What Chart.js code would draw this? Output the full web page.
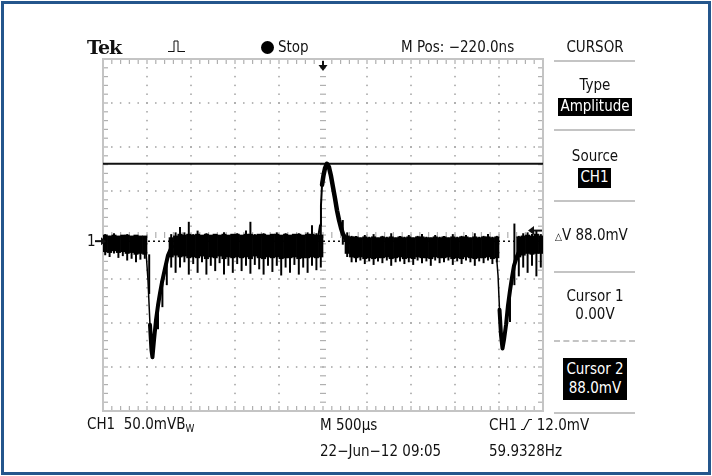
<!DOCTYPE html>
<html><head><meta charset="utf-8">
<script src="https://cdn.jsdelivr.net/npm/chart.js@4"></script>
<style>
html,body{margin:0;padding:0;background:#fff;}
#wrap{position:relative;width:712px;height:476px;overflow:hidden;background:#fff;font-family:"Liberation Sans Narrow","DejaVu Sans Condensed","Roboto",sans-serif;color:#111;}
#frame{position:absolute;left:1px;top:1px;width:704px;height:468px;border:3px solid #24568c;}
canvas{position:absolute;left:0;top:0;}
.t{position:absolute;font-size:15px;line-height:1;white-space:nowrap;transform:translateY(-50%);}
.c{transform:translate(-50%,-50%);text-align:center;}
.inv{position:absolute;background:#000;color:#fff;display:flex;flex-direction:column;align-items:center;justify-content:center;font-size:15px;line-height:1.3;}
.sep{position:absolute;left:554px;width:81px;height:2px;background:#c4c4c4;}
</style></head>
<body>
<div id="wrap">
  <canvas id="c" width="712" height="476"></canvas>
  <div id="frame"></div>

  <div class="t" style="left:87px;top:47px;font-family:'DejaVu Serif','Liberation Serif',serif;font-weight:bold;font-size:19px;letter-spacing:-1px;">Tek</div>
  <svg style="position:absolute;left:168px;top:38px" width="20" height="16" viewBox="0 0 20 16"><path d="M0 14 L1 13 L2 14 L3 13 L4 14 L5 13 L6 14 V3 H10 V14 L11 13 L12 14 L13 13 L14 14 L15 13 L16 14 L17 13" fill="none" stroke="#111" stroke-width="1"/></svg>
  <div style="position:absolute;left:261px;top:41px;width:13px;height:13px;border-radius:50%;background:#000;"></div>
  <div class="t" style="left:278px;top:47px;">Stop</div>
  <div class="t" style="left:401px;top:47px;">M Pos: −220.0ns</div>
  <div class="t c" style="left:595px;top:47px;">CURSOR</div>
  <div class="sep" style="top:60px"></div>

  <div class="t c" style="left:595px;top:85px;">Type</div>
  <div class="inv" style="left:558px;top:98px;width:74px;height:18px;">Amplitude</div>
  <div class="sep" style="top:129px"></div>

  <div class="t c" style="left:595px;top:156px;">Source</div>
  <div class="inv" style="left:578px;top:168px;width:33px;height:20px;">CH1</div>
  <div class="sep" style="top:200px"></div>

  <div class="t" style="left:555px;top:235px;"><span style="font-size:10px">△</span>V 88.0mV</div>
  <div class="sep" style="top:271px"></div>

  <div class="t c" style="left:595px;top:296px;">Cursor 1</div>
  <div class="t c" style="left:595px;top:314px;">0.00V</div>
  <div style="position:absolute;left:554px;top:340px;width:81px;height:0;border-top:2px dashed #c4c4c4;"></div>

  <div class="inv" style="left:563px;top:358px;width:64px;height:42px;"><span>Cursor 2</span><span>88.0mV</span></div>
  <div class="sep" style="top:412px"></div>

  <div class="t" style="left:87px;top:425px;">CH1&nbsp;&nbsp;50.0mV<span>B<sub style="font-size:10px;vertical-align:-3px">W</sub></span></div>
  <div class="t" style="left:320px;top:425px;">M 500µs</div>
  <div class="t" style="left:320px;top:451px;">22−Jun−12 09:05</div>
  <div class="t" style="left:489px;top:425px;">CH1 <svg width="11" height="12" viewBox="0 0 11 12" style="vertical-align:-1px"><path d="M0 11 H3 L8 1 H11" fill="none" stroke="#111" stroke-width="1.2"/></svg> 12.0mV</div>
  <div class="t" style="left:489px;top:451px;">59.9328Hz</div>

  <div class="t" style="left:87px;top:241px;">1</div>
</div>
<script>
// ---- data (peak-detect envelope, one column per 50 µs) ----
const COLUMN_START_MS = -2.5;
const COLUMN_STEP_MS = 0.05;
// thin peak excursions (mV)
const peakHi = [
  8,6,9,5,7,8,5,6,4,5,
  -15,null,-70,-48,-22,8,10,
  16,10,22,8,12,7,9,6,8,7, 10,6,8,9,7,12,22,8,7,9, 6,8,10,7,9,6,8,9,7,10, 18,9,
  20,null,null,null,null,24,10,6,
  6,4,7,5,8,4,6,5,9,4, 6,5,7,4,6,8,5,4,7,5, 6,4,8,5,6,7,4,9,5,6, 8,5,
  6,null,null,-62,20,6,9,10,8,12,8
];
const peakLo = [
  -16,-18,-14,-19,-17,-22,-20,-24,-21,-20,
  -60,null,-100,-75,-50,-30,-36,
  -30,-24,-38,-26,-36,-24,-38,-28,-34,-25, -38,-28,-36,-26,-34,-28,-37,-27,-32,-38, -28,-35,-28,-39,-30,-36,-27,-38,-30,-36, -28,-33,
  -30,null,null,null,null,-4,-18,-24,
  -24,-22,-26,-23,-27,-23,-25,-22,-28,-24, -23,-26,-24,-27,-22,-25,-23,-28,-22,-25, -24,-22,-27,-23,-26,-22,-24,-28,-23,-25, -22,-26,
  -24,null,null,-92,-50,-40,-30,-36,-28,-40,-30
];
// dense trace core (mV)
const coreHi = [
  7,6,7,6,7,7,6,7,6,6,
  null,null,null,null,null,4,6,
  8,7,8,7,8,7,8,7,8,7, 8,7,8,8,7,8,8,7,8,8, 7,8,8,7,8,7,8,8,7,8, 8,7,
  7,null,null,null,null,null,6,5,
  5,4,5,4,5,4,5,4,5,4, 5,4,5,4,5,5,4,4,5,4, 5,4,5,4,5,5,4,5,4,5, 5,4,
  5,null,null,null,null,5,6,7,6,8,6
];
const coreLo = [
  -12,-13,-11,-13,-12,-14,-13,-15,-14,-15,
  null,null,null,null,null,-18,-16,
  -18,-17,-19,-18,-19,-17,-20,-18,-19,-17, -20,-18,-19,-18,-19,-18,-20,-17,-19,-20, -18,-19,-18,-20,-19,-19,-18,-20,-19,-19, -18,-19,
  -18,null,null,null,null,null,-14,-18,
  -19,-18,-20,-19,-20,-19,-19,-18,-20,-19, -18,-20,-19,-20,-18,-19,-19,-20,-18,-19, -19,-18,-20,-19,-20,-18,-19,-20,-19,-19, -18,-20,
  -19,null,null,null,null,-18,-16,-14,-15,-14,-14
];
// fast edges traced point by point: [time ms, mV]
const dip1 = [[-2.011,-12],[-1.989,-44],[-1.966,-95],[-1.949,-124],[-1.938,-132],[-1.920,-112],[-1.898,-90],[-1.875,-73],[-1.852,-59],[-1.830,-47],[-1.795,-31],[-1.761,-16],[-1.716,-6]];
const pulse = [[-0.057,3],[-0.034,18],[-0.023,41],[-0.011,64],[0.006,75],[0.023,83],[0.045,88],[0.068,84],[0.091,74],[0.114,61],[0.136,49],[0.159,35],[0.182,24],[0.205,15],[0.227,8],[0.261,2],[0.307,-1]];
const dip2 = [[1.966,-10],[1.989,-39],[2.006,-78],[2.023,-107],[2.040,-122],[2.057,-112],[2.080,-95],[2.102,-73],[2.125,-56],[2.148,-41],[2.170,-28],[2.205,-17],[2.250,-7]];
const cursor1Mv = 0;
const cursor2Mv = 88;
const triggerLevelMv = 12;
const triggerTimeMs = 0;
const VOLTS_PER_DIV_MV = 50;
const TIME_PER_DIV_MS = 0.5;
const DIV_X = 10, DIV_Y = 8;
const GROUND_OFFSET_DIV = -0.14;   // channel 1 ground marker sits just below centre

const columnLabels = peakHi.map((_, i) => (COLUMN_START_MS + i * COLUMN_STEP_MS).toFixed(2));
const pair = (lo, hi) => lo.map((v, i) => (v === null || hi[i] === null) ? null : [v, hi[i]]);
const pts = arr => arr.map(([x, y]) => ({ x, y }));
const xMin = -DIV_X / 2 * TIME_PER_DIV_MS, xMax = DIV_X / 2 * TIME_PER_DIV_MS;
const yMin = (-DIV_Y / 2 - GROUND_OFFSET_DIV) * VOLTS_PER_DIV_MV;
const yMax = (DIV_Y / 2 - GROUND_OFFSET_DIV) * VOLTS_PER_DIV_MV;

const graticule = {
  id: 'graticule',
  beforeDatasetsDraw(chart) {
    const { ctx, chartArea: a } = chart;
    const dx = (a.right - a.left) / DIV_X, dy = (a.bottom - a.top) / DIV_Y;
    ctx.save();
    ctx.fillStyle = '#a0a0a0';
    for (let i = 1; i < DIV_X; i++) {
      if (i === DIV_X / 2) continue;
      const x = a.left + i * dx;
      for (let j = 1; j < DIV_Y * 5; j++) {
        const y = a.top + j * dy / 5;
        ctx.fillRect(x - 0.75, y - 0.75, 1.5, 1.5);
      }
    }
    for (let j = 1; j < DIV_Y; j++) {
      if (j === DIV_Y / 2) continue;
      const y = a.top + j * dy;
      for (let i = 1; i < DIV_X * 5; i++) {
        const x = a.left + i * dx / 5;
        ctx.fillRect(x - 0.75, y - 0.75, 1.5, 1.5);
      }
    }
    const cx = a.left + DIV_X / 2 * dx, cy = a.top + DIV_Y / 2 * dy;
    ctx.fillStyle = '#b0b0b0';
    for (let j = 1; j < DIV_Y * 5; j++) {
      const y = a.top + j * dy / 5;
      ctx.fillRect(cx - 3, y - 0.6, 6, 1.2);
    }
    for (let i = 1; i < DIV_X * 5; i++) {
      const x = a.left + i * dx / 5;
      ctx.fillRect(x - 0.6, cy - 3, 1.2, 6);
    }
    for (let j = 1; j < DIV_Y * 5; j++) {
      const y = a.top + j * dy / 5;
      ctx.fillRect(a.left, y - 0.6, 5, 1.2);
      ctx.fillRect(a.right - 5, y - 0.6, 5, 1.2);
    }
    for (let i = 1; i < DIV_X * 5; i++) {
      const x = a.left + i * dx / 5;
      ctx.fillRect(x - 0.6, a.top, 1.2, 5);
      ctx.fillRect(x - 0.6, a.bottom - 5, 1.2, 5);
    }
    ctx.strokeStyle = '#c4c4c4';
    ctx.lineWidth = 2;
    ctx.strokeRect(a.left, a.top, a.right - a.left, a.bottom - a.top);
    ctx.restore();
  },
  afterDraw(chart) {
    const { ctx, chartArea: a, scales } = chart;
    ctx.save();
    ctx.fillStyle = '#111'; ctx.strokeStyle = '#111'; ctx.lineWidth = 2;
    const tx = scales.xt.getPixelForValue(triggerTimeMs);
    ctx.beginPath(); ctx.moveTo(tx, a.top + 2); ctx.lineTo(tx, a.top + 8); ctx.stroke();
    ctx.beginPath(); ctx.moveTo(tx - 4.5, a.top + 6); ctx.lineTo(tx + 4.5, a.top + 6); ctx.lineTo(tx, a.top + 12); ctx.closePath(); ctx.fill();
    const ty = scales.y.getPixelForValue(triggerLevelMv);
    ctx.beginPath(); ctx.moveTo(a.right - 9, ty - 4.5); ctx.lineTo(a.right - 9, ty + 4.5); ctx.lineTo(a.right - 15, ty); ctx.closePath(); ctx.fill();
    ctx.beginPath(); ctx.moveTo(a.right - 10, ty); ctx.lineTo(a.right - 1, ty); ctx.stroke();
    const gy = scales.y.getPixelForValue(0);
    ctx.beginPath(); ctx.moveTo(a.left - 2, gy - 4); ctx.lineTo(a.left - 2, gy + 4); ctx.lineTo(a.left + 3, gy); ctx.closePath(); ctx.fill();
    ctx.beginPath(); ctx.moveTo(a.left - 8, gy); ctx.lineTo(a.left - 1, gy); ctx.stroke();
    ctx.restore();
  }
};

const edgeStyle = { type: 'line', xAxisID: 'xt', borderColor: '#000', pointRadius: 0, borderJoinStyle: 'round', borderCapStyle: 'round', order: 0 };
new Chart(document.getElementById('c'), {
  type: 'bar',
  data: {
    labels: columnLabels,
    datasets: [
      { type: 'line', xAxisID: 'xt', data: [{ x: xMin, y: cursor1Mv }, { x: xMax, y: cursor1Mv }], borderColor: '#111', borderWidth: 1.5, borderDash: [2, 3], pointRadius: 0, order: 3 },
      { type: 'line', xAxisID: 'xt', data: [{ x: xMin, y: cursor2Mv }, { x: xMax, y: cursor2Mv }], borderColor: '#111', borderWidth: 2, pointRadius: 0, order: 3 },
      { type: 'bar', data: pair(coreLo, coreHi), backgroundColor: '#000', borderWidth: 0, barPercentage: 1, categoryPercentage: 1, grouped: false, order: 2 },
      { type: 'bar', data: pair(peakLo, peakHi), backgroundColor: '#000', borderWidth: 0, barPercentage: 0.45, categoryPercentage: 1, grouped: false, order: 1 },
      { ...edgeStyle, data: pts(dip1), borderWidth: 4, segment: { borderWidth: c => (c.p1.parsed.y < c.p0.parsed.y && c.p1.parsed.y > -110) ? 1.5 : 4 } },
      { ...edgeStyle, data: pts(pulse), borderWidth: 4.5, segment: { borderWidth: c => (c.p1.parsed.y > c.p0.parsed.y && c.p1.parsed.y < 70) ? 2 : 4.5 } },
      { ...edgeStyle, data: pts(dip2), borderWidth: 4, segment: { borderWidth: c => (c.p1.parsed.y < c.p0.parsed.y && c.p1.parsed.y > -100) ? 1.5 : 4 } }
    ]
  },
  options: {
    responsive: false, animation: false,
    layout: { padding: { left: 103, top: 59, right: 169, bottom: 65 } },
    scales: {
      x: { type: 'category', display: false, offset: true },
      xt: { type: 'linear', min: xMin, max: xMax, display: false, offset: false },
      y: { type: 'linear', min: yMin, max: yMax, display: false }
    },
    plugins: { legend: { display: false }, tooltip: { enabled: false } }
  },
  plugins: [graticule]
});
</script>
</body></html>
